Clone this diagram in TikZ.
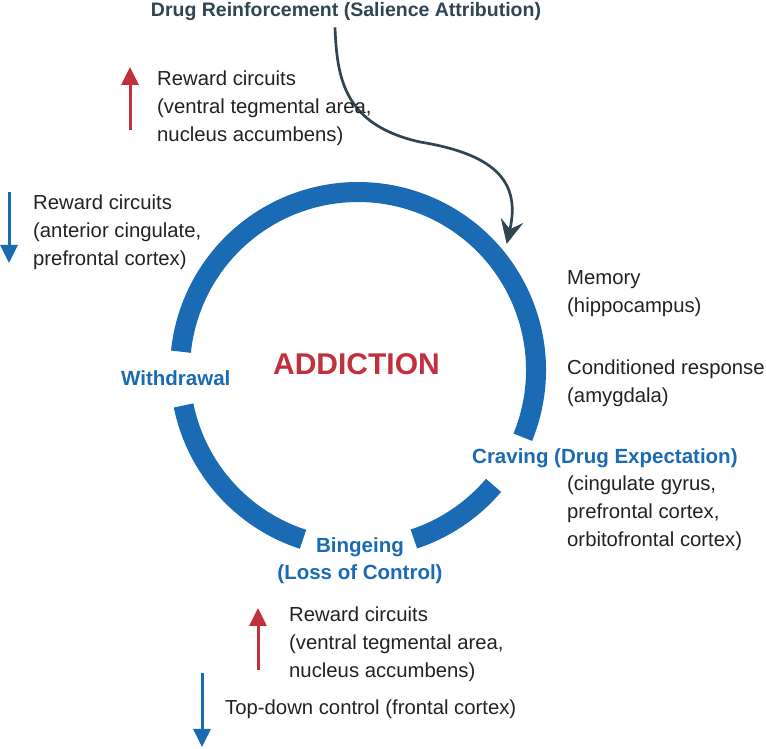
\documentclass[tikz,border=0pt]{standalone}
\usepackage{fontspec}
\setmainfont{Liberation Sans}
\usetikzlibrary{arrows.meta, positioning, calc}

\definecolor{ringblue}{HTML}{1A6AB4}
\definecolor{upred}{HTML}{C1313D}
\definecolor{slate}{HTML}{2F4552}
\definecolor{inkgray}{HTML}{222222}

\begin{document}
\begin{tikzpicture}[
    x=1pt, y=1pt,
    % Styles
    note/.style={anchor=base west, align=left, inner sep=0pt, font=\fontsize{20.3}{28}\selectfont, text=inkgray},
    stage/.style={inner sep=0pt, align=center, font=\bfseries\fontsize{20.5}{27.5}\selectfont, text=ringblue},
    ring/.style={draw=ringblue, line width=20pt},
    up/.style={-{Triangle[length=18pt,width=17pt]}, line width=3pt, draw=upred},
    down/.style={-{Triangle[length=18pt,width=17pt]}, line width=3pt, draw=ringblue},
    wire/.style={-{Stealth[length=24pt,width=23pt,inset=9pt]}, line width=2.7pt, draw=slate}
]
    \useasboundingbox (0,0) rectangle (766,749);

    % --- CYCLE ---
    \coordinate (hub) at (358,379);
    % Withdrawal -> Bingeing
    \draw[ring] ($(hub)+(191.5:178)$) arc[start angle=191.5, end angle=252, radius=178];
    % Bingeing -> Craving
    \draw[ring] ($(hub)+(288.3:178)$) arc[start angle=288.3, end angle=319.6, radius=178];
    % Craving -> Withdrawal (over the top)
    \draw[ring] ($(hub)+(337.8:178)$) arc[start angle=337.8, end angle=534.1, radius=178];

    \node[anchor=base, inner sep=0pt, font=\bfseries\fontsize{30}{34}\selectfont, text=upred] (addiction) at (356.5,374) {ADDICTION};

    % Stage labels (base = last line)
    \node[stage, anchor=base west] (withdrawal) at (121,363) {Withdrawal};
    \node[stage, anchor=base] (binge) at (360,169) {Bingeing\\(Loss of Control)};
    \node[stage, anchor=base west] (craving) at (472,285.5) {Craving (Drug Expectation)};

    % --- DRUG REINFORCEMENT ---
    \node[anchor=base, inner sep=0pt, font=\bfseries\fontsize{19.5}{24}\selectfont, text=slate] (salience) at (346,732) {Drug Reinforcement (Salience Attribution)};
    \coordinate (craving in) at ($(hub)+(40.3:195)$);
    \draw[wire] ([xshift=-11pt]salience.south) ++(0,-6) .. controls ++(2,-53) and (345,624) .. (420,607)
        .. controls (500,594) and (520,564) .. (craving in);

    % --- TOP: reward circuits up ---
    \coordinate (vta up tail) at (130,619);
    \coordinate (vta up tip) at (130,682);
    \draw[up] (vta up tail) -- (vta up tip);
    \node[note] (vta top) at (157,607) {Reward circuits\\(ventral tegmental area,\\nucleus accumbens)};

    % --- LEFT: reward circuits down ---
    \coordinate (acc down tail) at (9,557);
    \coordinate (acc down tip) at (9,486);
    \draw[down] (acc down tail) -- (acc down tip);
    \node[note] (acc left) at (33,483) {Reward circuits\\(anterior cingulate,\\prefrontal cortex)};

    % --- RIGHT: craving circuits ---
    \node[note] (memory) at (567,436) {Memory\\(hippocampus)};
    \node[note] (conditioned) at (567,346) {Conditioned response\\(amygdala)};
    \node[note] (craving areas) at (567,202) {(cingulate gyrus,\\prefrontal cortex,\\orbitofrontal cortex)};

    % --- BOTTOM: bingeing circuits ---
    \coordinate (vta low tail) at (258,79);
    \coordinate (vta low tip) at (258,141);
    \draw[up] (vta low tail) -- (vta low tip);
    \node[note] (vta low) at (289,71) {Reward circuits\\(ventral tegmental area,\\nucleus accumbens)};

    \coordinate (topdown tail) at (202,76);
    \coordinate (topdown tip) at (202,2);
    \draw[down] (topdown tail) -- (topdown tip);
    \node[note] (topdown) at (225,34) {Top-down control (frontal cortex)};

\end{tikzpicture}
\end{document}
